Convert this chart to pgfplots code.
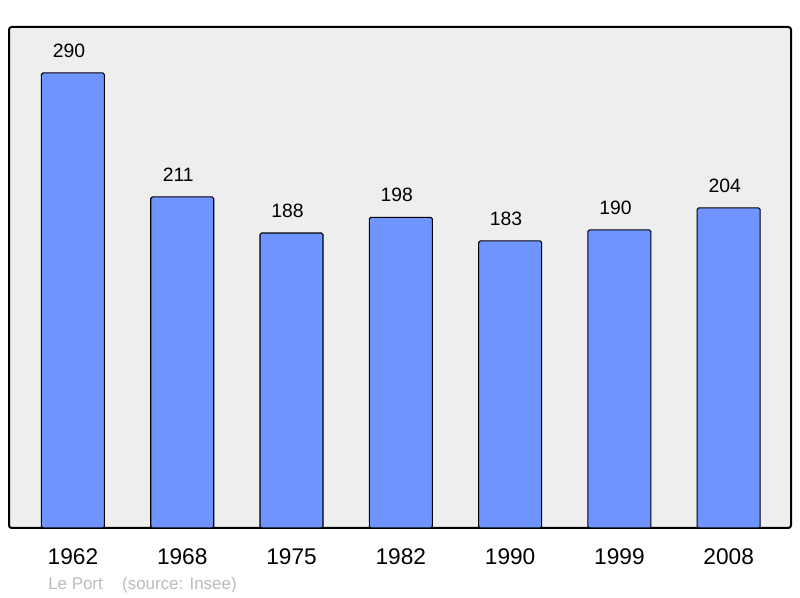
\documentclass[border=0pt]{standalone}
\usepackage{pgfplots}
\pgfplotsset{compat=1.18}
\usepackage{fontspec}
\setmainfont{Liberation Sans}
\definecolor{barblue}{HTML}{7094FF}
\definecolor{plotbg}{HTML}{EEEEEE}
\definecolor{footgray}{HTML}{BBBBBB}

\begin{document}
\begin{tikzpicture}
\useasboundingbox (0,0) rectangle (600pt,448.5pt);
\begin{axis}[
    at={(6.75pt,52.5pt)}, anchor=south west,
    scale only axis, width=586.5pt, height=375.75pt,
    xmin=-0.585, xmax=6.57, ymin=0, ymax=319.3,
    axis background/.style={fill=plotbg},
    axis line style={line width=1.5pt, rounded corners=2pt},
    ytick=\empty,
    xtick={0,...,6},
    xticklabels={1962,1968,1975,1982,1990,1999,2008},
    major tick length=0pt,
    xticklabel style={font=\fontsize{17}{17}\selectfont, inner sep=0pt, anchor=north, yshift=-15.5pt},
    ybar, bar width=47.25pt, bar shift=0pt,
    /pgf/number format/assume math mode=true,
    nodes near coords,
    nodes near coords style={font=\fontsize{14.5}{14.5}\selectfont, inner sep=0pt, anchor=south, yshift=11pt, xshift=-3pt},
]
\addplot[fill=barblue, draw=black, line width=0.8pt, rounded corners=1.2pt] coordinates {
    (0,290) (1,211) (2,188) (3,198) (4,183) (5,190) (6,204)
};
\end{axis}
\node[anchor=base west, inner sep=0pt, text=footgray, font=\fontsize{12.7}{12.7}\selectfont] at (36pt,6pt) {Le Port\hspace{14.5pt}(source: Insee)};
\end{tikzpicture}
\end{document}
